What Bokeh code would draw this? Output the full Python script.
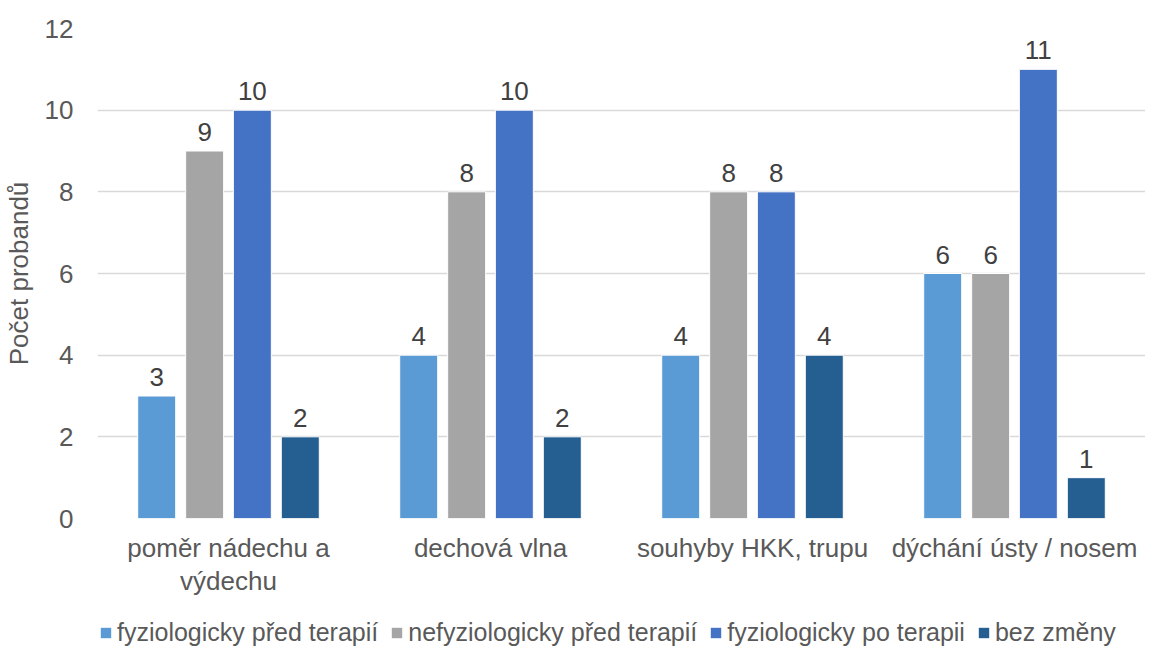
from bokeh.plotting import figure
from bokeh.layouts import column
from bokeh.models import FactorRange, Range1d, Legend, LegendItem, ColumnDataSource, LabelSet, FixedTicker
from bokeh.core.properties import value
from bokeh.transform import dodge
from bokeh.embed import file_html
from bokeh.resources import INLINE

categories = ["poměr nádechu a\nvýdechu", "dechová vlna", "souhyby HKK, trupu", "dýchání ústy / nosem"]
series_names = ["fyziologicky před terapií", "nefyziologicky před terapií", "fyziologicky po terapii", "bez změny"]
fyz_pred = [3, 4, 4, 6]
nefyz_pred = [9, 8, 8, 6]
fyz_po = [10, 10, 8, 11]
bez_zmeny = [2, 2, 4, 1]
y_ticks = [0, 2, 4, 6, 8, 10, 12]

colors = ["#5B9BD5", "#A5A5A5", "#4472C4", "#255E91"]
offsets = [-0.274, -0.091, 0.091, 0.274]
FONT = "Liberation Sans"
FS = "26px"

p = figure(x_range=FactorRange(*categories, range_padding=0), y_range=Range1d(0, 12),
           frame_width=1048, frame_height=490, output_backend="svg", toolbar_location=None,
           min_border_left=90, min_border_right=0, min_border_top=28, min_border_bottom=95)
p.outline_line_color = None

src = ColumnDataSource(dict(cat=categories, s0=fyz_pred, s1=nefyz_pred, s2=fyz_po, s3=bez_zmeny,
                            t0=[str(v) for v in fyz_pred], t1=[str(v) for v in nefyz_pred],
                            t2=[str(v) for v in fyz_po], t3=[str(v) for v in bez_zmeny]))
for i, name in enumerate(series_names):
    p.vbar(x=dodge("cat", offsets[i], range=p.x_range), top="s%d" % i, width=0.145,
           source=src, fill_color=colors[i], line_color="white", line_width=1)
    lbl = LabelSet(x=dodge("cat", offsets[i], range=p.x_range), y="s%d" % i, text="t%d" % i,
                   source=src, text_align="center", text_baseline="bottom", y_offset=10,
                   text_font=value(FONT), text_font_size=value(FS), text_color="#404040")
    p.add_layout(lbl)

p.yaxis.ticker = FixedTicker(ticks=y_ticks)
p.ygrid.grid_line_color = "#D9D9D9"
p.ygrid.grid_line_width = 1.5
p.xgrid.grid_line_color = None
for ax in (p.xaxis, p.yaxis):
    ax.axis_line_color = None
    ax.major_tick_line_color = None
    ax.minor_tick_line_color = None
    ax.major_tick_out = 0
    ax.major_tick_in = 0
    ax.minor_tick_out = 0
    ax.major_label_text_font = FONT
    ax.major_label_text_font_size = FS
    ax.major_label_text_color = "#595959"
p.xaxis.major_label_text_line_height = 1.1
p.yaxis.major_label_standoff = 24
p.xaxis.major_label_standoff = 14
p.yaxis.axis_label = "Počet probandů"
p.yaxis.axis_label_text_font = FONT
p.yaxis.axis_label_text_font_size = FS
p.yaxis.axis_label_text_font_style = "normal"
p.yaxis.axis_label_text_color = "#595959"
p.yaxis.axis_label_standoff = 8

# legend strip below the chart
lg = figure(width=1146, height=36, output_backend="svg", toolbar_location=None,
            x_axis_type=None, y_axis_type=None, x_range=Range1d(0, 1), y_range=Range1d(0, 1),
            min_border=0)
lg.outline_line_color = None
lg.grid.grid_line_color = None
items = []
for i, name in enumerate(series_names):
    r = lg.vbar(x=[5], top=[5], bottom=[4], width=0.1, fill_color=colors[i], line_color=None)
    items.append(LegendItem(label=name, renderers=[r]))
legend = Legend(items=items, orientation="horizontal", location=(2, 2),
                label_text_font=FONT, label_text_font_size="25px", label_text_color="#595959",
                glyph_width=13, glyph_height=13, label_standoff=5, spacing=12,
                padding=0, margin=0, border_line_color=None, background_fill_alpha=0)
lg.add_layout(legend, "center")

layout = column(p, lg, spacing=0)
open("out.html", "w").write(file_html(layout, INLINE))
